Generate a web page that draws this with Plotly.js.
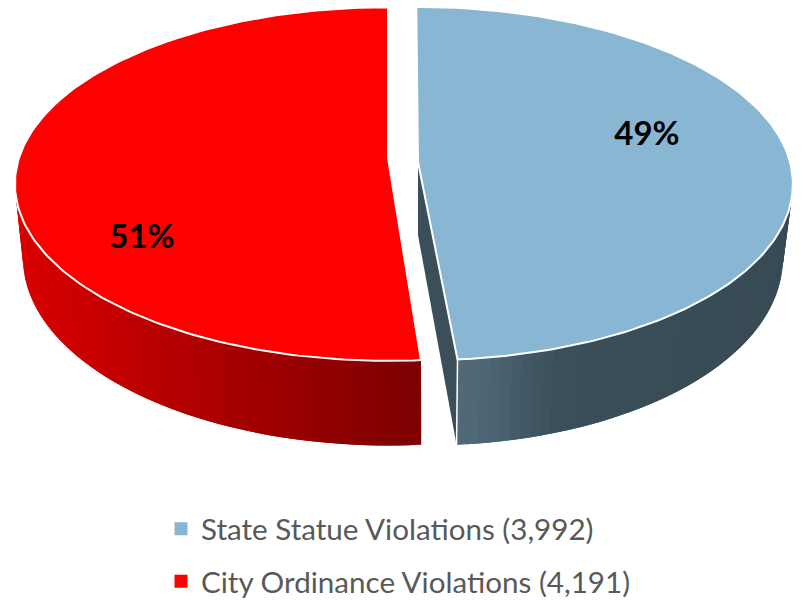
<!DOCTYPE html>
<html><head><meta charset="utf-8">
<script src="https://cdn.plot.ly/plotly-3.0.1.min.js"></script>
<style>html,body{margin:0;padding:0;background:#fff}#c{width:803px;height:600px}</style>
</head><body><div id="c"></div>
<script>
const categories = ["State Statue Violations", "City Ordinance Violations"];
const counts = [3992, 4191];
const topColors = ["#89B6D2", "#FF0000"];
const FONT = "Lato, Carlito, sans-serif";

const total = counts[0] + counts[1];
const shares = counts.map(v => v / total);
const DEG = Math.PI / 180;

// Perspective view of each exploded slice's top and bottom disc
const right = {x0: 418, y0: 162, r: 372, h: 174, c: 0.122, lean: 5,
               bx0: 418, by0: 235, br: 362, bh: 185, blean: 5};
const left  = {x0: 388, y0: 158, r: 369, h: 173, c: 0.147, lean: 0,
               bx0: 388, by0: 231, br: 361, bh: 183, blean: 1};

function project(g, deg, bottom) {
  const t = deg * DEG, X = Math.sin(t), Y = Math.cos(t), w = 1 + g.c * Y;
  const lean = Y < 0 ? Y * Y : 0;
  return bottom
    ? [g.bx0 + g.br * X / w + g.blean * lean, g.by0 - g.bh * Y / w]
    : [g.x0 + g.r * X / w + g.lean * lean, g.y0 - g.h * Y / w];
}
function arc(g, a, b, bottom, n) {
  const p = [];
  for (let i = 0; i <= n; i++) p.push(project(g, a + (b - a) * i / n, bottom));
  return p;
}
function poly(points, color, lw, lc) {
  const xs = points.map(p => p[0]), ys = points.map(p => p[1]);
  return {type: "scatter", mode: "lines", x: xs, y: ys, fill: "toself", fillcolor: color,
          line: {color: lc || color, width: lw === undefined ? 0 : lw},
          hoverinfo: "skip", showlegend: false};
}
function mix(stops, x) {
  let i = 0;
  while (i < stops.length - 2 && x > stops[i + 1][0]) i++;
  const a = stops[i], b = stops[i + 1];
  const k = Math.min(1, Math.max(0, (x - a[0]) / (b[0] - a[0])));
  return "rgb(" + [1, 2, 3].map(j => Math.round(a[j] + (b[j] - a[j]) * k)).join(",") + ")";
}
const redStops = [[15, 218, 0, 0], [420, 126, 0, 0]];
const blueStops = [[458, 80, 107, 121], [550, 58, 79, 90], [800, 55, 74, 84]];

const traces = [];
const START = -0.3;
const rEnd = START + shares[0] * 360;
const lStart = shares[0] * 360;

// cut wall of the right slice
traces.push(poly([[right.x0, right.y0], project(right, rEnd, false), project(right, rEnd, true),
                  [right.bx0, right.by0]], "#3A4F5A"));

// side bands are painted from the far end to the cut, each one overlapping the next
function sides(g, cut, far, stops) {
  const step = 1.5, n = Math.ceil(Math.abs(far - cut) / step);
  const d = (far - cut) / n;
  for (let i = n - 1; i >= 0; i--) {
    const t0 = cut + d * i, t1 = Math.min(Math.max(cut + d * (i + 2), Math.min(cut, far)), Math.max(cut, far));
    const q = arc(g, t0, t1, false, 2).concat(arc(g, t1, t0, true, 2));
    const mid = project(g, t0 + d / 2, false)[0];
    traces.push(poly(q, mix(stops, mid)));
  }
}
sides(right, rEnd, 60, blueStops);
sides(left, lStart, 300, redStops);

// front cut edge of the right slice
traces.push({type: "scatter", mode: "lines", hoverinfo: "skip", showlegend: false,
  x: [project(right, rEnd, false)[0], project(right, rEnd, true)[0]],
  y: [project(right, rEnd, false)[1], project(right, rEnd, true)[1]],
  line: {color: "#fff", width: 1.5}});

// top faces
traces.push(poly([[right.x0, right.y0]].concat(arc(right, START, rEnd, false, 180), [[right.x0, right.y0]]),
                 topColors[0], 2, "#fff"));
traces.push(poly([[left.x0, left.y0]].concat(arc(left, lStart, 360, false, 180), [[left.x0, left.y0]]),
                 topColors[1], 2, "#fff"));

// percentage labels
traces.push({type: "scatter", mode: "text", x: [647, 142], y: [137, 240],
  text: shares.map(s => Math.round(s * 100) + "%"), textposition: "middle center",
  textfont: {family: FONT, size: 33, color: "#000", weight: 700},
  hoverinfo: "skip", showlegend: false});

// legend entries
categories.forEach((c, i) => traces.push({type: "scatter", mode: "markers", x: [null], y: [null],
  name: c + " (" + counts[i].toLocaleString("en-US") + ")", legendgroup: "g" + i,
  marker: {symbol: "square", size: 13, color: topColors[i]}, hoverinfo: "skip"}));

Plotly.newPlot("c", traces, {
  width: 803, height: 600, margin: {l: 0, r: 0, t: 0, b: 0, autoexpand: false},
  paper_bgcolor: "#fff", plot_bgcolor: "#fff",
  xaxis: {range: [0, 803], visible: false, fixedrange: true},
  yaxis: {range: [600, 0], visible: false, fixedrange: true},
  showlegend: true,
  legend: {x: 161 / 803, xanchor: "left", y: 1 - 503 / 600, yanchor: "top",
    font: {family: FONT, size: 29.6, color: "#595959"}, tracegroupgap: 11,
    bgcolor: "rgba(0,0,0,0)", traceorder: "grouped"}
}, {displayModeBar: false, staticPlot: true});
</script></body></html>
